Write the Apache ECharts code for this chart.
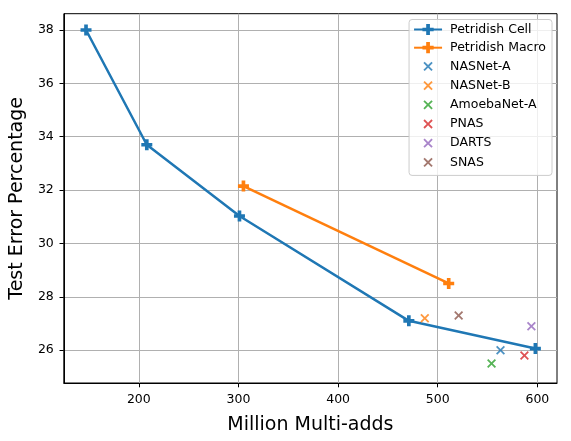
<!DOCTYPE html>
<html>
<head>
<meta charset="utf-8">
<script src="https://cdn.jsdelivr.net/npm/echarts@6/dist/echarts.min.js"></script>
<style>
html,body{margin:0;padding:0;background:#fff;}
#chart{width:571px;height:441px;}
</style>
</head>
<body>
<div id="chart"></div>
<script>
// Data
var cellX = [147, 208, 301, 471, 598];
var cellY = [38.0, 33.7, 31.03, 27.1, 26.06];
var macroX = [305, 511];
var macroY = [32.15, 28.5];
var otherNames = ['NASNet-A', 'NASNet-B', 'AmoebaNet-A', 'PNAS', 'DARTS', 'SNAS'];
var otherX = [563, 487, 554, 587, 594, 521];
var otherY = [26.0, 27.2, 25.5, 25.8, 26.9, 27.3];
var otherColors = ['#1f77b4', '#ff7f0e', '#2ca02c', '#d62728', '#9467bd', '#8c564b'];
var xTicks = [200, 300, 400, 500, 600];
var yTicks = [26, 28, 30, 32, 34, 36, 38];

var PLUS = 'path://M2,0H4V2H6V4H4V6H2V4H0V2H2Z';
var CROSS = 'path://M0,1.4L1.4,0L5,3.6L8.6,0L10,1.4L6.4,5L10,8.6L8.6,10L5,6.4L1.4,10L0,8.6L3.6,5Z';
var CROSS_LEGEND = 'path://M-2.5,-2.5L-2.5,-2.49L-2.49,-2.5Z M12.5,12.5L12.5,12.49L12.49,12.5Z M0,1.4L1.4,0L5,3.6L8.6,0L10,1.4L6.4,5L10,8.6L8.6,10L5,6.4L1.4,10L0,8.6L3.6,5Z';
var FONT = 'DejaVu Sans';

function pairs(xs, ys) { return xs.map(function (x, i) { return [x, ys[i]]; }); }

var series = [
  {
    name: 'Petridish Cell', type: 'line', data: pairs(cellX, cellY),
    symbol: PLUS, symbolSize: 11, showSymbol: true,
    lineStyle: { color: '#1f77b4', width: 2.5 },
    itemStyle: { color: '#1f77b4' }, z: 3
  },
  {
    name: 'Petridish Macro', type: 'line', data: pairs(macroX, macroY),
    symbol: PLUS, symbolSize: 11, showSymbol: true,
    lineStyle: { color: '#ff7f0e', width: 2.5 },
    itemStyle: { color: '#ff7f0e' }, z: 3
  }
];
otherNames.forEach(function (n, i) {
  series.push({
    name: n, type: 'scatter', data: [[otherX[i], otherY[i]]],
    symbol: CROSS, symbolSize: 9,
    itemStyle: { color: otherColors[i] }, z: 4
  });
});

var legendData = [{ name: 'Petridish Cell' }, { name: 'Petridish Macro' }].concat(
  otherNames.map(function (n) { return { name: n, icon: CROSS_LEGEND }; })
);

var chart = echarts.init(document.getElementById('chart'), null, { renderer: 'canvas' });
chart.setOption({
  animation: false,
  backgroundColor: '#ffffff',
  textStyle: { fontFamily: FONT },
  grid: { left: 62, top: 13.7, right: 14, bottom: 58, show: true, borderColor: '#000', borderWidth: 1, backgroundColor: 'transparent' },
  legend: {
    orient: 'vertical', right: 19, top: 19.5,
    data: legendData,
    itemWidth: 28, itemHeight: 14, itemGap: 5.2,
    padding: [3.5, 6, 6, 4],
    backgroundColor: 'rgba(255,255,255,0.8)', borderColor: '#cccccc', borderWidth: 1, borderRadius: 3,
    textStyle: { fontFamily: FONT, fontSize: 12.5, color: '#000', padding: [0, 0, 0, 3] }
  },
  xAxis: {
    type: 'value', min: 124.7, max: 619.7, splitNumber: 5,
    name: 'Million Multi-adds', nameLocation: 'middle', nameGap: 33,
    nameTextStyle: { fontFamily: FONT, fontSize: 19, color: '#000' },
    axisLine: { show: true, onZero: false, lineStyle: { color: '#000', width: 1 } },
    axisTick: { show: true, length: 4.3, lineStyle: { color: '#000' }, customValues: xTicks },
    axisLabel: { fontFamily: FONT, fontSize: 12.5, color: '#000', margin: 10, customValues: xTicks },
    splitLine: { show: true, lineStyle: { color: '#b0b0b0', width: 1 } }
  },
  yAxis: {
    type: 'value', min: 24.77, max: 38.61, splitNumber: 7,
    name: 'Test Error Percentage', nameLocation: 'middle', nameGap: 36,
    nameTextStyle: { fontFamily: FONT, fontSize: 19, color: '#000' },
    axisLine: { show: true, onZero: false, lineStyle: { color: '#000', width: 1 } },
    axisTick: { show: true, length: 4.3, lineStyle: { color: '#000' }, customValues: yTicks },
    axisLabel: { fontFamily: FONT, fontSize: 12.5, color: '#000', margin: 10, customValues: yTicks },
    splitLine: { show: true, lineStyle: { color: '#b0b0b0', width: 1 } }
  },
  series: series
});
</script>
</body>
</html>
